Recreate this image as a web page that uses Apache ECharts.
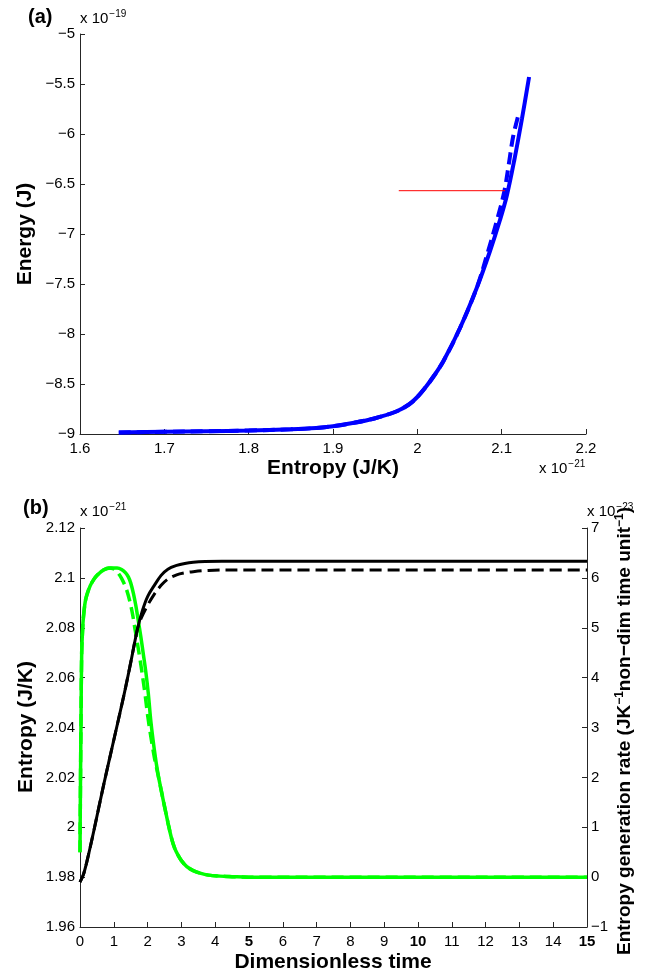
<!DOCTYPE html>
<html>
<head>
<meta charset="utf-8">
<script src="https://cdn.jsdelivr.net/npm/echarts@6/dist/echarts.min.js"></script>
<style>
html,body{margin:0;padding:0;background:#fff;}
#chart{width:659px;height:978px;}
</style>
</head>
<body>
<div id="chart"></div>
<script>
// ---- Panel (a): Energy (x1e-19 J) vs Entropy (x1e-21 J/K) ----
const topSolidS = [1.646, 1.70, 1.75, 1.80, 1.85, 1.88, 1.90, 1.925, 1.95, 1.975, 1.99, 2.00, 2.01, 2.02, 2.031, 2.0506, 2.0704, 2.0862, 2.098, 2.106, 2.115, 2.124, 2.1325];
const topSolidE = [-8.985, -8.978, -8.972, -8.965, -8.953, -8.94, -8.922, -8.888, -8.842, -8.775, -8.705, -8.63, -8.53, -8.415, -8.27, -7.94, -7.54, -7.17, -6.86, -6.62, -6.26, -5.85, -5.43];
const topDashS = [1.646, 1.70, 1.75, 1.80, 1.85, 1.88, 1.90, 1.925, 1.95, 1.975, 1.99, 2.00, 2.01, 2.02, 2.031, 2.0506, 2.0704, 2.084, 2.0945, 2.103, 2.1085, 2.1135, 2.1198];
const topDashE = [-8.985, -8.978, -8.972, -8.965, -8.953, -8.94, -8.922, -8.888, -8.842, -8.775, -8.705, -8.63, -8.53, -8.415, -8.27, -7.94, -7.54, -7.17, -6.86, -6.58, -6.30, -6.03, -5.81];
const redLineS = [1.978, 2.104];
const redLineE = [-6.567, -6.567];
const topXTicks = [1.6, 2.2, 0.1];
const topYTicks = [-9, -5, 0.5];

// ---- Panel (b): vs dimensionless time ----
const timeGreenSolid = [0, 0.01, 0.02, 0.03, 0.05, 0.08, 0.1, 0.15, 0.2, 0.3, 0.4, 0.5, 0.7, 0.9, 1.0, 1.1, 1.23, 1.35, 1.43, 1.5, 1.58, 1.65, 1.72, 1.8, 1.87, 1.95, 2.02, 2.1, 2.2, 2.3, 2.4, 2.5, 2.6, 2.7, 2.8, 2.9, 3.0, 3.16, 3.35, 3.55, 3.8, 4.14, 4.5, 5, 15];
const rateGreenSolid = [0.5, 1.5, 2.4, 3.15, 4.5, 5.0, 5.2, 5.5, 5.65, 5.84, 5.96, 6.05, 6.16, 6.2, 6.2, 6.2, 6.17, 6.1, 6.02, 5.9, 5.69, 5.45, 5.16, 4.82, 4.49, 4.1, 3.69, 3.1, 2.55, 2.1, 1.75, 1.42, 1.1, 0.8, 0.58, 0.44, 0.33, 0.21, 0.13, 0.08, 0.04, 0.02, 0.01, 0, 0];
const timeGreenDash = [0, 0.01, 0.02, 0.03, 0.05, 0.08, 0.1, 0.15, 0.2, 0.3, 0.4, 0.5, 0.7, 0.85, 1.0, 1.1, 1.23, 1.38, 1.53, 1.63, 1.78, 1.92, 2.0, 2.1, 2.2, 2.3, 2.4, 2.5, 2.6, 2.7, 2.8, 2.9, 3.0, 3.16, 3.35, 3.55, 3.8, 4.14, 4.5, 5, 15];
const rateGreenDash = [0.5, 1.5, 2.4, 3.15, 4.5, 5.0, 5.2, 5.5, 5.65, 5.84, 5.96, 6.05, 6.16, 6.2, 6.18, 6.12, 5.99, 5.76, 5.36, 4.96, 4.35, 3.69, 3.25, 2.8, 2.4, 2.08, 1.75, 1.42, 1.1, 0.8, 0.58, 0.44, 0.33, 0.21, 0.13, 0.08, 0.04, 0.02, 0.01, 0, 0];
const timeBlackSolid = [0, 0.1, 0.2, 0.4, 0.7, 1.0, 1.3, 1.5, 1.7, 1.85, 2.0, 2.2, 2.4, 2.6, 2.86, 3.1, 3.35, 3.7, 4.2, 15];
const entropyBlackSolid = [1.978, 1.981, 1.986, 1.998, 2.017, 2.035, 2.053, 2.066, 2.0795, 2.087, 2.0925, 2.097, 2.101, 2.1035, 2.105, 2.1058, 2.1063, 2.1066, 2.1067, 2.1067];
const timeBlackDash = [0, 0.1, 0.2, 0.4, 0.7, 1.0, 1.3, 1.5, 1.7, 1.8, 2.0, 2.2, 2.4, 2.6, 2.86, 3.1, 3.35, 3.8, 4.5, 15];
const entropyBlackDash = [1.978, 1.981, 1.986, 1.998, 2.017, 2.035, 2.053, 2.066, 2.0795, 2.0835, 2.089, 2.0935, 2.097, 2.0995, 2.1012, 2.102, 2.1025, 2.103, 2.1032, 2.1032];
const botXTicks = [0, 15, 1];
const botLeftTicks = [1.96, 2.12, 0.02];
const botRightTicks = [-1, 7, 1];

const zip = (a, b) => a.map((v, i) => [v, b[i]]);
const FONT = '"Liberation Sans", Arial, Helvetica, sans-serif';
const AX = '#262626';
const minus = s => String(s).replace('-', '\u2212');

function axisBase(extra) {
  return Object.assign({
    type: 'value',
    axisLine: { show: true, onZero: false, lineStyle: { color: AX, width: 1 } },
    axisTick: { show: true, inside: true, length: 5, lineStyle: { color: AX } },
    splitLine: { show: false },
    axisLabel: { color: '#000', fontSize: 15, fontFamily: FONT }
  }, extra);
}

const chart = echarts.init(document.getElementById('chart'), null, { renderer: 'canvas' });

// exponent label "x 10^n" as rich text
const expLabel = (x, y, exp) => ({
  type: 'text', x: x, y: y,
  style: { text: 'x 10{s|' + exp + '}', font: '15px ' + FONT, fill: '#000', align: 'left', verticalAlign: 'bottom',
    rich: { s: { fontSize: 10, fontFamily: FONT, verticalAlign: 'top', lineHeight: 20, padding: [0, 0, 0, 1] } } }
});
const boldText = (x, y, text, size, rot, align) => ({
  type: 'text', x: x, y: y, rotation: rot || 0,
  style: { text: text, font: 'bold ' + size + 'px ' + FONT, fill: '#000', align: align || 'center', verticalAlign: 'middle' }
});

const SMOOTH = 0.35;
const option = {
  animation: false,
  backgroundColor: '#fff',
  grid: [
    { left: 80, top: 34, width: 506, height: 400 },
    { left: 80, top: 528, width: 507, height: 399 }
  ],
  xAxis: [
    axisBase({ gridIndex: 0, min: topXTicks[0], max: topXTicks[1], interval: topXTicks[2],
      axisLabel: { color: '#000', fontSize: 15, fontFamily: FONT, margin: 7, formatter: v => String(Math.round(v * 10) / 10) } }),
    axisBase({ gridIndex: 1, min: botXTicks[0], max: botXTicks[1], interval: botXTicks[2],
      axisLabel: { color: '#000', fontSize: 15, fontFamily: FONT, margin: 7,
        formatter: v => ([5, 10, 15].indexOf(v) >= 0 ? '{b|' + v + '}' : String(v)),
        rich: { b: { fontWeight: 'bold', fontSize: 15, fontFamily: FONT, color: '#000' } } } })
  ],
  yAxis: [
    axisBase({ gridIndex: 0, min: topYTicks[0], max: topYTicks[1], interval: topYTicks[2],
      axisLabel: { color: '#000', fontSize: 15, fontFamily: FONT, margin: 5, formatter: v => minus(Math.round(v * 10) / 10) } }),
    axisBase({ gridIndex: 1, position: 'left', min: botLeftTicks[0], max: botLeftTicks[1], interval: botLeftTicks[2],
      axisLabel: { color: '#000', fontSize: 15, fontFamily: FONT, margin: 5, formatter: v => String(Math.round(v * 100) / 100) } }),
    axisBase({ gridIndex: 1, position: 'right', min: botRightTicks[0], max: botRightTicks[1], interval: botRightTicks[2],
      axisLabel: { color: '#000', fontSize: 15, fontFamily: FONT, margin: 4, formatter: v => minus(Math.round(v)) } })
  ],
  series: [
    { type: 'line', xAxisIndex: 0, yAxisIndex: 0, data: zip(topDashS, topDashE), showSymbol: false, smooth: SMOOTH,
      lineStyle: { color: '#0000ff', width: 4, type: [12, 6] } },
    { type: 'line', xAxisIndex: 0, yAxisIndex: 0, data: zip(topSolidS, topSolidE), showSymbol: false, smooth: SMOOTH,
      lineStyle: { color: '#0000ff', width: 4 } },
    { type: 'line', xAxisIndex: 0, yAxisIndex: 0, data: zip(redLineS, redLineE), showSymbol: false,
      lineStyle: { color: '#ff0000', width: 1 } },
    { type: 'line', xAxisIndex: 1, yAxisIndex: 2, data: zip(timeGreenDash, rateGreenDash), showSymbol: false, smooth: SMOOTH,
      lineStyle: { color: '#00ff00', width: 3.5, type: [12, 6] } },
    { type: 'line', xAxisIndex: 1, yAxisIndex: 2, data: zip(timeGreenSolid, rateGreenSolid), showSymbol: false, smooth: SMOOTH,
      lineStyle: { color: '#00ff00', width: 3.5 } },
    { type: 'line', xAxisIndex: 1, yAxisIndex: 1, data: zip(timeBlackDash, entropyBlackDash), showSymbol: false, smooth: SMOOTH,
      lineStyle: { color: '#000000', width: 3, type: [12, 6] } },
    { type: 'line', xAxisIndex: 1, yAxisIndex: 1, data: zip(timeBlackSolid, entropyBlackSolid), showSymbol: false, smooth: SMOOTH,
      lineStyle: { color: '#000000', width: 3 } }
  ],
  graphic: [
    boldText(28, 17, '(a)', 20, 0, 'left'),
    expLabel(80, 29, '\u221219'),
    boldText(25, 234, 'Energy (J)', 21, Math.PI / 2),
    boldText(333, 468, 'Entropy (J/K)', 21),
    expLabel(539, 479, '\u221221'),
    boldText(23, 508, '(b)', 20, 0, 'left'),
    expLabel(80, 522, '\u221221'),
    expLabel(587, 522, '\u221223'),
    boldText(26, 727, 'Entropy (J/K)', 21, Math.PI / 2),
    boldText(333, 962, 'Dimensionless time', 21),
    { type: 'text', x: 625, y: 731, rotation: Math.PI / 2,
      style: { text: 'Entropy generation rate (JK{s|\u22121}non\u2212dim time unit{s|\u22121})',
        font: 'bold 19px ' + FONT, fill: '#000', align: 'center', verticalAlign: 'middle',
        rich: { s: { fontSize: 12, fontWeight: 'bold', fontFamily: FONT, verticalAlign: 'top', lineHeight: 22 } } } }
  ]
};
chart.setOption(option);
</script>
</body>
</html>
